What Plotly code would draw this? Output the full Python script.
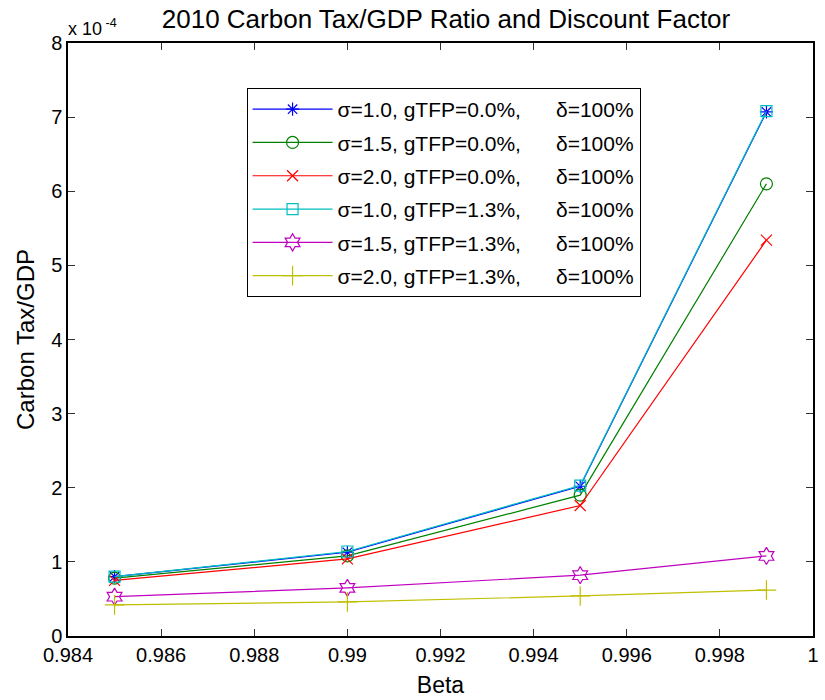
import plotly.graph_objects as go

# Discount factor (beta) values
beta = [0.985, 0.99, 0.995, 0.999]

# Carbon tax / GDP ratio, in units of 1e-4
s10_g00 = [0.80, 1.13, 2.02, 7.07]
s15_g00 = [0.78, 1.08, 1.90, 6.10]
s20_g00 = [0.75, 1.04, 1.76, 5.34]
s10_g13 = [0.80, 1.14, 2.03, 7.08]
s15_g13 = [0.53, 0.65, 0.82, 1.08]
s20_g13 = [0.42, 0.46, 0.54, 0.62]

series_names = [
    "σ=1.0, gTFP=0.0%,",
    "σ=1.5, gTFP=0.0%,",
    "σ=2.0, gTFP=0.0%,",
    "σ=1.0, gTFP=1.3%,",
    "σ=1.5, gTFP=1.3%,",
    "σ=2.0, gTFP=1.3%,",
]
delta_label = "δ=100%"

x_ticks = [0.984, 0.986, 0.988, 0.99, 0.992, 0.994, 0.996, 0.998, 1.0]
x_tick_text = ["0.984", "0.986", "0.988", "0.99", "0.992", "0.994", "0.996", "0.998", "1"]
y_ticks = [0, 1, 2, 3, 4, 5, 6, 7, 8]

series = [s10_g00, s15_g00, s20_g00, s10_g13, s15_g13, s20_g13]
colors = ["#0000FF", "#008000", "#FF0000", "#00BFBF", "#BF00BF", "#BFBF00"]
symbols = ["asterisk-open", "circle-open", "x-thin-open", "square-open",
           "hexagram-open", "cross-thin-open"]
sizes = [11, 12, 11, 11, 13, 14]

FONT = "Liberation Sans, Arial, sans-serif"
gap = "\u00a0" * 6

fig = go.Figure()
for i, (vals, name, col, sym, sz) in enumerate(zip(series, series_names, colors, symbols, sizes)):
    fig.add_trace(go.Scatter(
        x=beta, y=vals, mode="lines+markers",
        name=name + gap + delta_label,
        legendgroup=f"g{i}",
        line=dict(color=col, width=1.2),
        marker=dict(symbol=sym, size=sz, color=col, line=dict(color=col, width=1.2)),
    ))

axis_common = dict(
    ticks="inside", ticklen=7, tickcolor="#333", showgrid=False,
    zeroline=False, showline=True, linecolor="black", linewidth=1.5,
    mirror="ticks", tickfont=dict(size=20),
)

fig.update_layout(
    width=825, height=700,
    paper_bgcolor="white", plot_bgcolor="white",
    margin=dict(l=68, r=6, t=43, b=64),
    font=dict(family=FONT, size=20, color="black"),
    title=dict(text="2010 Carbon Tax/GDP Ratio and Discount Factor",
               x=446 / 825, xanchor="center", y=1 - 19 / 700, yanchor="middle",
               font=dict(size=26)),
    xaxis=dict(range=[0.984, 1.0], tickvals=x_ticks, ticktext=x_tick_text,
               title=dict(text="Beta", standoff=12, font=dict(size=23)), **axis_common),
    yaxis=dict(range=[0, 8], tickvals=y_ticks,
               title=dict(text="Carbon Tax/GDP", standoff=10, font=dict(size=24)), **axis_common),
    legend=dict(x=(248 - 68) / 751, y=(636 - 88) / 593, xanchor="left", yanchor="top",
                bgcolor="white", bordercolor="black", borderwidth=1,
                font=dict(size=21), tracegroupgap=3, itemwidth=80),
    showlegend=True,
)

fig.add_annotation(xref="paper", yref="paper", x=0.0, y=1.0, xanchor="left", yanchor="bottom",
                   xshift=-2, yshift=2, showarrow=False,
                   text="x 10<sup> -4</sup>", font=dict(size=18))

fig.write_html("out.html")
